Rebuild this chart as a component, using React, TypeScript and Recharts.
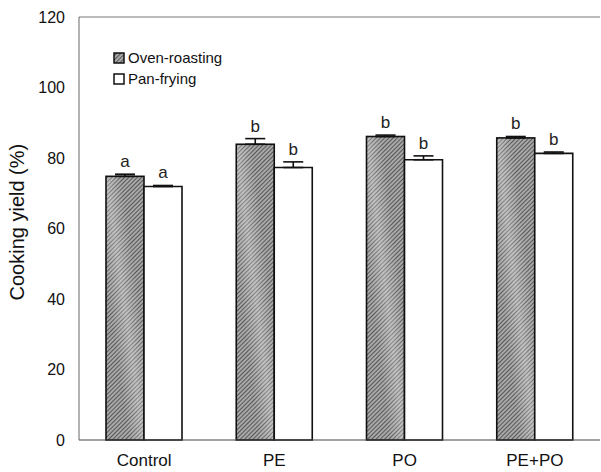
import { Bar, BarChart, ErrorBar, LabelList, ReferenceLine, XAxis, YAxis } from 'recharts'

const categories = ['Control', 'PE', 'PO', 'PE+PO']
const ovenRoasting = [74.8, 83.9, 86.1, 85.7]
const panFrying = [71.9, 77.3, 79.5, 81.3]
const ovenErr = [0.6, 1.6, 0.4, 0.4]
const panErr = [0.3, 1.6, 1.1, 0.4]
const ovenLetters = ['a', 'b', 'b', 'b']
const panLetters = ['a', 'b', 'b', 'b']
const yTicks = [0, 20, 40, 60, 80, 100, 120]

const FONT = '"Liberation Sans", Arial, sans-serif'

const data = categories.map((name, i) => ({
  name,
  oven: ovenRoasting[i],
  pan: panFrying[i],
  ovenErr: [0, ovenErr[i]],
  panErr: [0, panErr[i]],
}))

function HatchedBar(props: any) {
  const { x, y, width, height } = props
  if (!height || height <= 0) return null
  return (
    <g>
      <rect x={x} y={y} width={width} height={height} fill="url(#hatch)" />
      <rect x={x} y={y} width={width} height={height} fill="url(#streak)" />
      <rect x={x} y={y} width={width} height={height} fill="none" stroke="#111" strokeWidth={1.6} />
    </g>
  )
}

function letterLabel(letters: string[], values: number[], errs: number[]) {
  return (props: any) => {
    const { x, y, width, height, index } = props
    const perUnit = height / values[index]
    const capY = y - errs[index] * perUnit
    return (
      <text
        x={x + width / 2}
        y={capY - 7}
        textAnchor="middle"
        fontSize={17}
        fontFamily={FONT}
        fill="#222"
      >
        {letters[index]}
      </text>
    )
  }
}

function LegendBox() {
  const row = (label: string, hatched: boolean) => (
    <div style={{ display: 'flex', alignItems: 'center', height: 21 }}>
      <svg width={13} height={12} style={{ marginRight: 2 }}>
        <defs>
          <pattern id={`lh${label}`} patternUnits="userSpaceOnUse" width={3} height={3} patternTransform="rotate(45)">
            <rect width={3} height={3} fill="#a8a8a8" />
            <line x1={0} y1={0} x2={0} y2={3} stroke="#333" strokeWidth={1.4} />
          </pattern>
        </defs>
        <rect x={1} y={1} width={10} height={10} fill={hatched ? `url(#lh${label})` : '#fff'} stroke="#111" strokeWidth={1.5} />
      </svg>
      <span style={{ fontSize: 15, color: '#111', fontFamily: FONT }}>{label}</span>
    </div>
  )
  return (
    <div style={{ position: 'absolute', left: 113, top: 47 }}>
      {row('Oven-roasting', true)}
      {row('Pan-frying', false)}
    </div>
  )
}

export default function App() {
  return (
    <div style={{ position: 'absolute', left: 0, top: 0, width: 601, height: 472, background: '#fff' }}>
      <BarChart
        width={601}
        height={472}
        data={data}
        margin={{ top: 17, right: 1, left: 0, bottom: 0 }}
        barSize={38}
        barGap={0}
      >
        <defs>
          <pattern id="hatch" patternUnits="userSpaceOnUse" width={3} height={3} patternTransform="rotate(45)">
            <rect width={3} height={3} fill="#a8a8a8" />
            <line x1={0} y1={0} x2={0} y2={3} stroke="#333" strokeWidth={1.4} />
          </pattern>
          <linearGradient id="streak" x1="0" y1="1" x2="1" y2="0">
            <stop offset="0%" stopColor="#fff" stopOpacity={0} />
            <stop offset="30%" stopColor="#fff" stopOpacity={0} />
            <stop offset="50%" stopColor="#fff" stopOpacity={0.3} />
            <stop offset="70%" stopColor="#fff" stopOpacity={0} />
            <stop offset="100%" stopColor="#fff" stopOpacity={0} />
          </linearGradient>
        </defs>
        <XAxis
          dataKey="name"
          height={32}
          tickLine={false}
          tickSize={0}
          tickMargin={14}
          axisLine={{ stroke: '#444', strokeWidth: 1.2 }}
          tick={{ fill: '#111', fontSize: 17, fontFamily: FONT }}
        />
        <YAxis
          width={79}
          domain={[0, 120]}
          ticks={yTicks}
          tickLine={false}
          tickSize={0}
          tickMargin={14}
          axisLine={{ stroke: '#666', strokeWidth: 1 }}
          tick={{ fill: '#111', fontSize: 16, fontFamily: FONT }}
          label={{
            value: 'Cooking yield (%)',
            angle: -90,
            position: 'insideLeft',
            dx: 12,
            dy: 72,
            style: { fontSize: 20, fill: '#111', fontFamily: FONT },
          }}
        />
        <YAxis
          yAxisId="right"
          orientation="right"
          width={0}
          domain={[0, 120]}
          tick={false}
          tickLine={false}
          axisLine={{ stroke: '#888', strokeWidth: 1 }}
        />
        <ReferenceLine y={120} stroke="#777" strokeWidth={1} ifOverflow="visible" />
        <Bar dataKey="oven" name="Oven-roasting" shape={<HatchedBar />} isAnimationActive={false}>
          <ErrorBar dataKey="ovenErr" width={10} stroke="#111" strokeWidth={1.6} direction="y" />
          <LabelList dataKey="oven" content={letterLabel(ovenLetters, ovenRoasting, ovenErr)} />
        </Bar>
        <Bar dataKey="pan" name="Pan-frying" fill="#fff" stroke="#111" strokeWidth={1.6} isAnimationActive={false}>
          <ErrorBar dataKey="panErr" width={10} stroke="#111" strokeWidth={1.6} direction="y" />
          <LabelList dataKey="pan" content={letterLabel(panLetters, panFrying, panErr)} />
        </Bar>
      </BarChart>
      <LegendBox />
    </div>
  )
}
